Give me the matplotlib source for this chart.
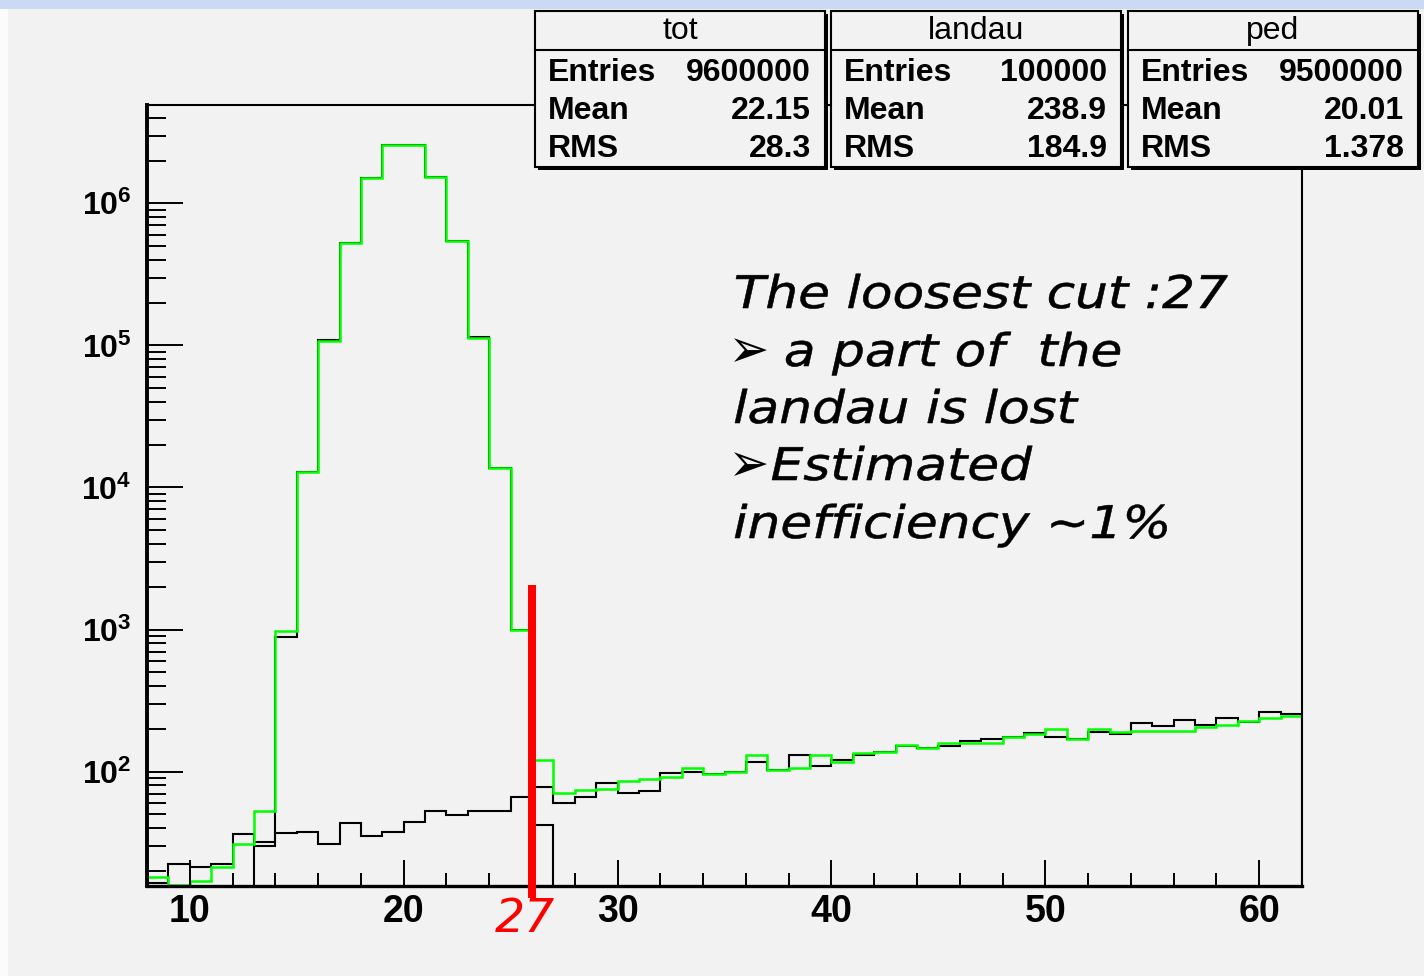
import matplotlib

matplotlib.use("Agg")
import matplotlib.pyplot as plt
import numpy as np
from matplotlib.font_manager import FontProperties
from matplotlib.lines import Line2D
from matplotlib.patches import PathPatch, Rectangle
from matplotlib.textpath import TextPath
from matplotlib.ticker import FixedLocator, LogLocator, MultipleLocator, NullFormatter
from matplotlib.transforms import Affine2D

W, H = 1424, 976

# histogram bins of width 1 from 8 to 62
edges = np.arange(8, 63)
tot = [18, 16, 17, 21.4, 31, 53, 980, 12900, 107000, 528000, 1.5e6, 2.57e6, 2.57e6,
       1.54e6, 546000, 112000, 13800, 990, 121, 70.5, 74, 75, 86.5, 89.3, 92, 105.7,
       96, 100, 131, 103, 105.7, 130, 117, 135, 137, 153, 147, 158, 158, 158, 176,
       185, 201, 169, 201, 191, 192, 192, 194, 207, 213, 228, 238, 247]
landau = [16.5, 22.3, 21.4, 22.3, 36.5, 32, 36.8, 37.9, 31, 43.4, 35.5, 37.9, 44.5,
          52.8, 49.5, 52.8, 52.8, 66.5, 78, 60, 66.7, 83.7, 71, 73, 98.4, 100, 97,
          100, 117, 103, 130, 110, 120, 132, 137, 152, 146, 151, 165, 170, 176, 186,
          176, 169, 189, 183, 221, 210, 231, 213, 238, 225, 264, 255]
ped_edges = np.arange(13, 28)
ped = [29.8, 880, 12800, 109000, 528000, 1.5e6, 2.57e6, 2.57e6, 1.54e6, 546000,
       114000, 13800, 1000, 42]

box_names = ["tot", "landau", "ped"]
box_entries = ["9600000", "100000", "9500000"]
box_means = ["22.15", "238.9", "20.01"]
box_rms = ["28.3", "184.9", "1.378"]

cut_x = 26
cut_label = "27"
note_lines = ["The loosest cut :27", "a part of  the", "landau is lost",
              "Estimated", "inefficiency ~1%"]

BG = "#f2f2f2"
plt.rcParams["mathtext.fontset"] = "custom"
plt.rcParams["mathtext.rm"] = "Liberation Sans:bold"
plt.rcParams["mathtext.bf"] = "Liberation Sans:bold"


def fx(px):
    return px / W


def fy(py):
    return 1 - py / H


def path_text(fig, s, x, y_base, size, sx, prop, color="black", ha="left", lw=0):
    # text drawn as a path, stretched horizontally, in pixel coordinates
    tp = TextPath((0, 0), s, size=size, prop=prop)
    ext = tp.get_extents()
    if ha == "left":
        x0 = x - ext.x0 * sx
    else:
        x0 = x - (ext.x0 + ext.x1) / 2 * sx
    tr = Affine2D().scale(sx, 1).translate(x0, H - y_base)
    fig.add_artist(PathPatch(tp, transform=tr, facecolor=color,
                             edgecolor=color if lw else "none", lw=lw))


fig = plt.figure(figsize=(W / 100, H / 100), dpi=100, facecolor=BG)
# slide decoration
fig.add_artist(Rectangle((0, fy(9)), 1, 9 / H, transform=fig.transFigure,
                         facecolor="#c9daf2", edgecolor="none"))
fig.add_artist(Rectangle((0, 0), 8 / W, fy(9), transform=fig.transFigure,
                         facecolor="#fbfbfb", edgecolor="none"))

ax = fig.add_axes([fx(147), fy(885.5), fx(1302) - fx(147), fy(105) - fy(885.5)])
ax.set_facecolor(BG)
ax.set_yscale("log", nonpositive="clip")

ax.stairs(landau, edges, baseline=1, color="black", lw=1.5)
ax.stairs(ped, ped_edges, baseline=1, color="black", lw=1.5)
ax.stairs(tot, edges, baseline=1, color="#00ff00", lw=1.8)

ax.set_xlim(8, 62)
ax.set_ylim(15.8, 4.92e6)

ax.xaxis.set_major_locator(MultipleLocator(10))
ax.xaxis.set_minor_locator(MultipleLocator(2))
ax.yaxis.set_major_locator(FixedLocator([1e2, 1e3, 1e4, 1e5, 1e6]))
ax.yaxis.set_minor_locator(LogLocator(base=10, subs=np.arange(2, 10)))
ax.yaxis.set_minor_formatter(NullFormatter())
ax.set_yticklabels([r"$\mathbf{10^{%d}}$" % k for k in range(2, 7)])
ax.set_xticks([10, 20, 30, 40, 50, 60])
ax.set_xticklabels(["10", "20", "30", "40", "50", "60"])

ax.tick_params(axis="x", which="major", direction="in", length=19, width=1.4,
               pad=6, labelsize=27)
ax.tick_params(axis="x", which="minor", direction="in", length=9.5, width=1.4)
ax.tick_params(axis="y", which="major", direction="in", length=26, width=1.4,
               pad=11, labelsize=23)
ax.tick_params(axis="y", which="minor", direction="in", length=14, width=1.4)
for lab in ax.get_xticklabels():
    lab.set_fontfamily("Liberation Sans")
    lab.set_fontweight("bold")

ax.spines["left"].set_linewidth(2.8)
ax.spines["bottom"].set_linewidth(2.4)
ax.spines["top"].set_linewidth(1.5)
ax.spines["right"].set_linewidth(1.5)

# cut line
ax.plot([cut_x, cut_x], [2060, 12.9], color="#ff0000", lw=5.8, clip_on=False,
        solid_capstyle="butt", zorder=5)
fig.text(fx(525), fy(919), cut_label, color="#ff0000", fontsize=34, style="italic",
         family="DejaVu Sans", ha="center", va="center")

# annotation text
note_prop = FontProperties(family="DejaVu Sans", style="oblique")
note_base = [308, 366, 423, 480, 538]
note_x = [736, 786, 735, 772, 735]
for txt, yb, xx in zip(note_lines, note_base, note_x):
    path_text(fig, txt, xx, yb, 45, 1.15, note_prop, lw=0.4)
arrow_prop = FontProperties(family="DejaVu Sans")
for yb in (note_base[1], note_base[3]):
    path_text(fig, "\u27a2", 734, yb + 1, 54, 0.9, arrow_prop)

# stats boxes
box_x = [535, 831, 1128]
box_w = 290
y_top, y_div, y_bot = 11, 50, 167
stat_font = "Liberation Sans"
for x0, name, ent, mean, rms in zip(box_x, box_names, box_entries, box_means, box_rms):
    fig.add_artist(Rectangle((fx(x0 + 3), fy(y_bot + 3)), box_w / W, (y_bot - y_top) / H,
                             transform=fig.transFigure, facecolor="black",
                             edgecolor="none", zorder=10))
    fig.add_artist(Rectangle((fx(x0), fy(y_bot)), box_w / W, (y_bot - y_top) / H,
                             transform=fig.transFigure, facecolor=BG,
                             edgecolor="black", lw=1.5, zorder=11))
    fig.add_artist(Line2D([fx(x0), fx(x0 + box_w)], [fy(y_div), fy(y_div)],
                          transform=fig.transFigure, color="black", lw=1.5, zorder=12))
    fig.text(fx(x0 + box_w / 2), fy(31), name, fontsize=23, family=stat_font,
             ha="center", va="center", zorder=13)
    for lab, val, yy in zip(["Entries", "Mean", "RMS"], [ent, mean, rms], [73, 111, 149]):
        fig.text(fx(x0 + 13), fy(yy), lab, fontsize=23, fontweight="bold",
                 family=stat_font, ha="left", va="center", zorder=13)
        fig.text(fx(x0 + box_w - 14), fy(yy), val, fontsize=23, fontweight="bold",
                 family=stat_font, ha="right", va="center", zorder=13)

fig.savefig("out.png", dpi=100, facecolor=BG)
